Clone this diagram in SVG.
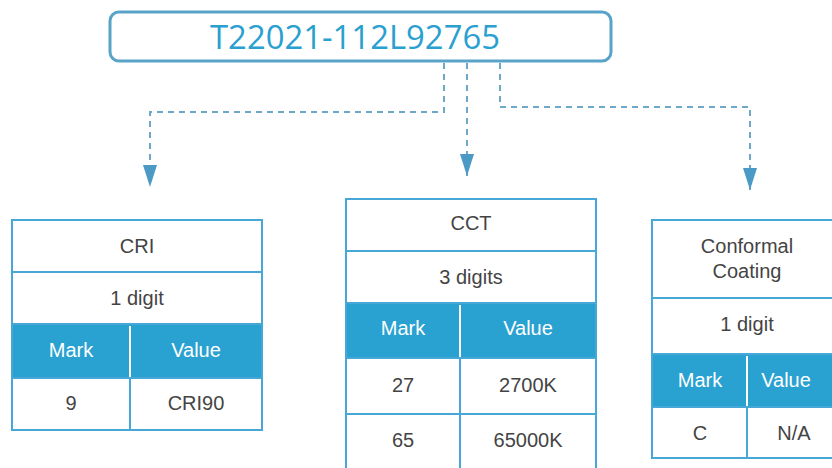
<svg xmlns="http://www.w3.org/2000/svg" width="832" height="468" viewBox="0 0 832 468">
<defs>
<style>
.cell{fill:#fff;stroke:#47a8d8;stroke-width:2}
.hdr{fill:#29a1d1;stroke:#47a8d8;stroke-width:2}
.sep{stroke:#fff;stroke-width:2}
.t{font-family:"Liberation Sans",Arial,sans-serif;font-size:20px;fill:#444;text-anchor:middle}
.h{font-family:"Liberation Sans",Arial,sans-serif;font-size:20px;fill:#fff;text-anchor:middle}
.con{fill:none;stroke:#6ea8c8;stroke-width:2;stroke-dasharray:6 5}
</style>
<marker id="arr" viewBox="0 0 22 14" refX="22" refY="7" markerWidth="22" markerHeight="14" markerUnits="userSpaceOnUse" orient="auto">
<path d="M0,0 L22,7 L0,14 z" fill="#4b9ac6"/>
</marker>
</defs>
<rect width="832" height="468" fill="#fff"/>

<g id="code">
<rect x="110" y="12" width="501" height="49" rx="9" fill="#fff" stroke="#5aa3c8" stroke-width="3"/>
<text x="355" y="49" font-family="'Open Sans','Liberation Sans',sans-serif" font-size="33" fill="#2aa0d0" text-anchor="middle" textLength="290" lengthAdjust="spacingAndGlyphs">T22021-112L92765</text>
</g>

<g id="connectors">
<path class="con" d="M444,63 V112 H150 V187" marker-end="url(#arr)"/>
<path class="con" d="M467,63 V176" marker-end="url(#arr)"/>
<path class="con" d="M500,63 V107 H750 V190" marker-end="url(#arr)"/>
</g>

<g id="cri">
<rect class="cell" x="12" y="220" width="250" height="52"/>
<rect class="cell" x="12" y="272" width="250" height="52"/>
<rect class="hdr" x="12" y="324" width="250" height="54"/>
<line class="sep" x1="130" y1="326" x2="130" y2="377"/>
<rect class="cell" x="12" y="378" width="118" height="52"/>
<rect class="cell" x="130" y="378" width="132" height="52"/>
<text class="t" x="137" y="253">CRI</text>
<text class="t" x="137" y="305">1 digit</text>
<text class="h" x="71" y="357">Mark</text>
<text class="h" x="196" y="357">Value</text>
<text class="t" x="71" y="410">9</text>
<text class="t" x="196" y="410">CRI90</text>
</g>

<g id="cct">
<rect class="cell" x="346" y="199" width="250" height="52"/>
<rect class="cell" x="346" y="251" width="250" height="52"/>
<rect class="hdr" x="346" y="303" width="250" height="55"/>
<line class="sep" x1="460" y1="305" x2="460" y2="357"/>
<rect class="cell" x="346" y="358" width="114" height="56"/>
<rect class="cell" x="460" y="358" width="136" height="56"/>
<rect class="cell" x="346" y="414" width="114" height="60"/>
<rect class="cell" x="460" y="414" width="136" height="60"/>
<text class="t" x="471" y="230">CCT</text>
<text class="t" x="471" y="284">3 digits</text>
<text class="h" x="403" y="335">Mark</text>
<text class="h" x="528" y="335">Value</text>
<text class="t" x="403" y="392">27</text>
<text class="t" x="528" y="392">2700K</text>
<text class="t" x="403" y="447">65</text>
<text class="t" x="528" y="447">65000K</text>
</g>

<g id="coating">
<rect class="cell" x="652" y="220" width="190" height="78"/>
<rect class="cell" x="652" y="298" width="190" height="56"/>
<rect class="hdr" x="652" y="354" width="190" height="53"/>
<line class="sep" x1="747" y1="356" x2="747" y2="406"/>
<rect class="cell" x="652" y="407" width="95" height="51"/>
<rect class="cell" x="747" y="407" width="95" height="51"/>
<text class="t" x="747" y="253">Conformal</text>
<text class="t" x="747" y="278">Coating</text>
<text class="t" x="747" y="331">1 digit</text>
<text class="h" x="700" y="387">Mark</text>
<text class="h" x="786" y="387">Value</text>
<text class="t" x="700" y="440">C</text>
<text class="t" x="794" y="440">N/A</text>
</g>
</svg>
